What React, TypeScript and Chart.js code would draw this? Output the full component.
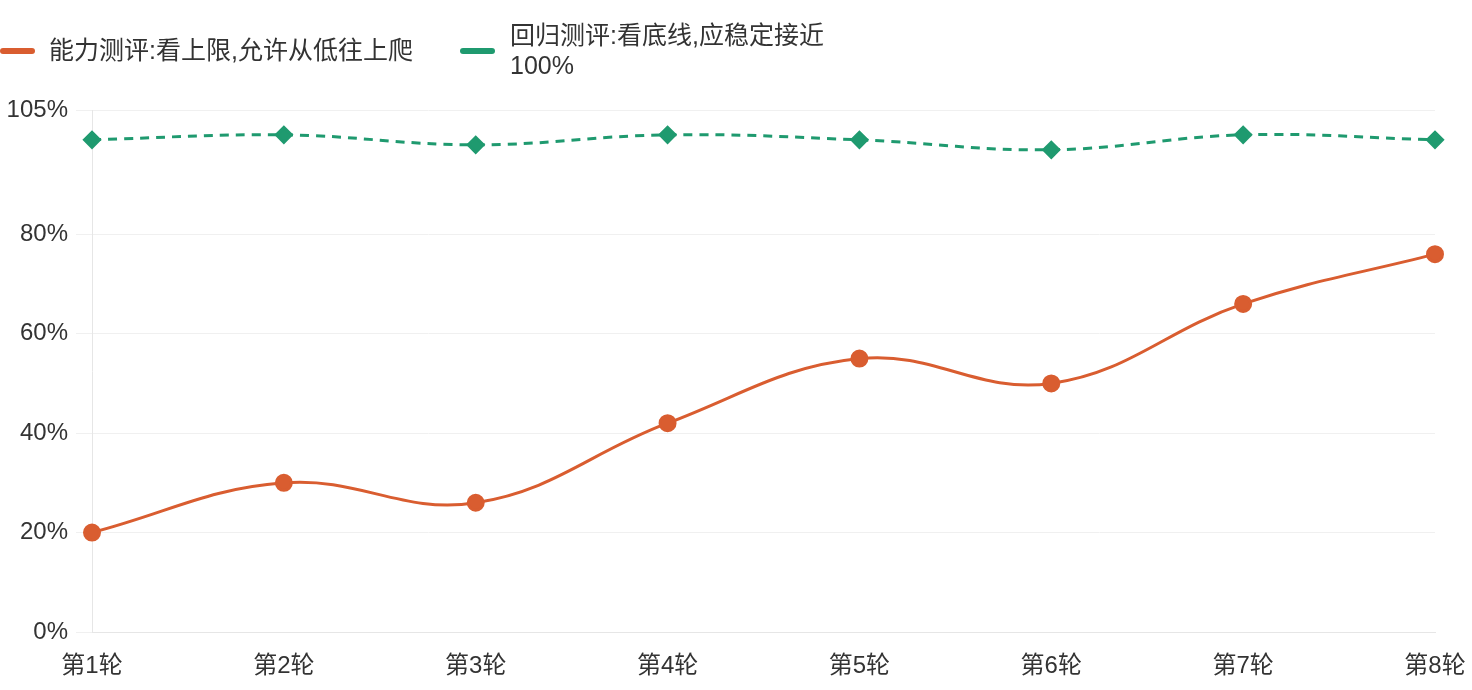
import React, { useEffect, useRef } from 'react';
import { Chart, registerables } from 'chart.js';

Chart.register(...registerables);

const categories = ['第1轮', '第2轮', '第3轮', '第4轮', '第5轮', '第6轮', '第7轮', '第8轮'];
const capabilityScores = [20, 30, 26, 42, 55, 50, 66, 76];
const regressionScores = [99, 100, 98, 100, 99, 97, 100, 99];
const capabilityLabel = '能力测评:看上限,允许从低往上爬';
const regressionLabel = ['回归测评:看底线,应稳定接近', '100%'];
const yMin = 0;
const yMax = 105;
const yStep = 20;

const ORANGE = '#d95d30';
const GREEN = '#1f9a6f';
const FONT = "'Liberation Sans', 'Noto Sans CJK SC', sans-serif";
const TEXT = '#333333';

const legendPlugin = {
  id: 'customLegend',
  afterDraw(chart: any) {
    const ctx = chart.ctx;
    const items = [
      { x: 0, y: 51, textX: 49 },
      { x: 460, y: 51, textX: 510 },
    ];
    chart.data.datasets.forEach((ds: any, i: number) => {
      const pos = items[i];
      if (!pos) return;
      ctx.save();
      ctx.strokeStyle = ds.borderColor;
      ctx.lineWidth = 6;
      ctx.lineCap = 'round';
      ctx.setLineDash([]);
      ctx.beginPath();
      ctx.moveTo(pos.x + 3, pos.y);
      ctx.lineTo(pos.x + 32, pos.y);
      ctx.stroke();
      const lines: string[] = Array.isArray(ds.label) ? ds.label : [ds.label];
      ctx.fillStyle = TEXT;
      ctx.font = `25px ${FONT}`;
      ctx.textBaseline = 'middle';
      ctx.textAlign = 'left';
      const lh = 30;
      const startY = pos.y + 1 - ((lines.length - 1) * lh) / 2;
      lines.forEach((ln, k) => ctx.fillText(ln, pos.textX, startY + k * lh));
      ctx.restore();
    });
  },
};

export default function App() {
  const ref = useRef<HTMLCanvasElement | null>(null);
  useEffect(() => {
    if (!ref.current) return;
    const chart = new Chart(ref.current, {
      type: 'line',
      data: {
        labels: categories,
        datasets: [
          {
            label: capabilityLabel as any,
            data: capabilityScores,
            borderColor: ORANGE,
            backgroundColor: ORANGE,
            borderWidth: 3,
            tension: 0.4,
            pointRadius: 7.5,
            pointHoverRadius: 7.5,
            pointBackgroundColor: ORANGE,
            pointBorderColor: ORANGE,
            pointStyle: 'circle',
            fill: false,
          },
          {
            label: regressionLabel as any,
            data: regressionScores,
            borderColor: GREEN,
            backgroundColor: GREEN,
            borderWidth: 3,
            borderDash: [9, 7],
            tension: 0.4,
            pointRadius: 7.5,
            pointHoverRadius: 7.5,
            pointBackgroundColor: GREEN,
            pointBorderColor: GREEN,
            pointStyle: 'rectRot',
            fill: false,
          },
        ],
      },
      options: {
        responsive: false,
        animation: false,
        devicePixelRatio: 1,
        layout: { padding: { left: 0, top: 110, right: 37, bottom: 0 } },
        plugins: {
          legend: { display: false },
          tooltip: { enabled: false },
        },
        scales: {
          x: {
            offset: false,
            grid: { display: false, drawTicks: false },
            border: { display: true, color: '#e6e6e6', width: 1 },
            ticks: {
              color: TEXT,
              font: { family: FONT, size: 24 },
              padding: 20,
              maxRotation: 0,
              autoSkip: false,
            },
            afterFit(axis: any) {
              axis.height = 58;
              axis.paddingLeft = 0;
              axis.paddingRight = 0;
            },
          },
          y: {
            min: yMin,
            max: yMax,
            grid: { color: '#f0f0f0', tickLength: 16, lineWidth: 1 },
            border: { display: true, color: '#e6e6e6', width: 1 },
            ticks: {
              stepSize: yStep,
              color: TEXT,
              font: { family: FONT, size: 24 },
              padding: 8,
              callback: (v: any) => `${v}%`,
            },
            afterFit(axis: any) {
              axis.width = 92;
            },
          },
        },
      },
      plugins: [legendPlugin],
    });
    return () => chart.destroy();
  }, []);
  return (
    <div style={{ position: 'fixed', left: 0, top: 0, width: 1472, height: 690, background: '#fff' }}>
      <canvas ref={ref} width={1472} height={690} />
    </div>
  );
}
